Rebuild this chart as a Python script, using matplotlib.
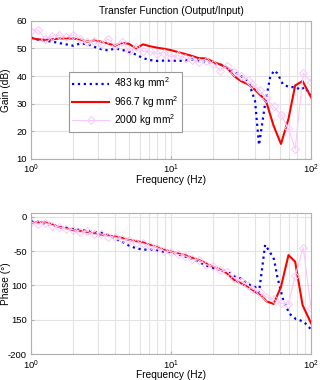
import numpy as np
import matplotlib
matplotlib.use('Agg')
from matplotlib import pyplot as plt

plt.rcParams['font.family'] = ['Liberation Sans', 'DejaVu Sans']
plt.rcParams['mathtext.fontset'] = 'custom'
plt.rcParams['mathtext.rm'] = 'Liberation Sans'
plt.rcParams['mathtext.it'] = 'Liberation Sans'

#%% Data
f_low = [1.0, 1.12, 1.26, 1.41, 1.58, 1.78, 2.0, 2.24, 2.51, 2.82, 3.16, 3.55, 3.98,
         4.47, 5.01, 5.62, 6.31, 7.08, 7.94, 8.91, 10.0, 11.2, 12.6, 14.1, 15.8,
         17.8, 20.0, 22.4, 25.1, 28.2, 31.6, 35.5]

# 483 kg mm2
f_483 = f_low + [39.8, 42.5, 47.0, 51.0, 54.4, 57.5, 63.0, 70.0, 78.0, 84.0, 90.0, 100.0]
gain_483 = [54.0, 53.2, 52.8, 52.5, 52.0, 51.5, 51.0, 51.8, 51.6, 50.6, 49.8, 49.3, 50.0,
            49.5, 48.8, 47.8, 46.5, 45.8, 45.5, 45.6, 45.6, 45.5, 45.6, 46.0, 45.6,
            45.2, 44.8, 44.3, 43.2, 41.5, 40.0, 38.3,
            31.0, 15.0, 30.0, 39.5, 42.0, 41.0, 37.0, 36.0, 36.0, 35.0, 36.0, 33.0]
phase_483 = [-7, -7.5, -10, -12, -15, -16, -18, -19.5, -20.5, -22.5, -23.5, -27, -32,
             -37, -42, -46, -48, -48, -49.5, -51, -52, -55, -58, -61, -66,
             -71, -75, -77, -80, -86, -90, -98,
             -102, -110, -41, -52, -62, -88, -120, -141, -149, -151, -154, -164]

# 966.7 kg mm2
f_967 = f_low + [39.8, 44.7, 48.0, 54.0, 61.0, 69.0, 77.0, 87.0, 100.0]
gain_967 = [53.8, 53.3, 53.2, 53.3, 53.6, 53.7, 53.6, 53.3, 52.5, 52.9, 52.5, 51.8, 51.0,
            52.0, 51.7, 50.0, 51.5, 50.8, 50.3, 49.9, 49.4, 48.7, 48.0, 47.3, 46.5,
            46.4, 45.2, 44.2, 43.0, 40.0, 38.2, 37.0,
            35.0, 32.5, 30.5, 22.0, 15.4, 24.5, 36.6, 38.2, 32.3]
phase_967 = [-8.5, -8.5, -8.5, -11, -15, -17, -19.5, -21, -22, -24.5, -26, -27.5, -29,
             -31, -34, -35.5, -37.5, -41, -44.5, -48, -51, -53.5, -56, -59.5, -63,
             -68, -73, -77, -82.5, -92, -97, -102,
             -109, -116, -123, -127, -102, -56, -65.5, -128.7, -155]

# 2000 kg mm2
f_2000 = f_low + [38.0, 43.0, 48.0, 54.0, 61.0, 69.0, 77.0, 88.0, 100.0]
gain_2000 = [56.5, 56.8, 53.5, 54.5, 54.8, 54.0, 55.0, 53.5, 52.5, 52.8, 51.5, 53.5, 51.0,
             52.5, 49.0, 50.5, 49.0, 49.0, 48.0, 48.5, 47.0, 47.5, 46.5, 46.0, 45.0,
             45.5, 44.5, 42.0, 43.5, 41.5, 40.0, 38.5,
             37.0, 35.0, 32.0, 29.0, 26.0, 21.0, 13.5, 41.0, 38.0]
phase_2000 = [-8, -11, -9, -13, -15, -18, -19, -23, -21, -26, -25, -29, -30,
              -33, -34, -38, -39, -43, -45, -50, -51, -55, -57, -62, -63,
              -70, -72, -78, -80, -89, -94, -100,
              -105, -110, -117, -120, -126, -127, -86, -45, -133]

labels = ['483 kg mm$^2$', '966.7 kg mm$^2$', '2000 kg mm$^2$']
phase_ticks = [-200, -150, -100, -50, 0]
phase_ticklabels = ['-200', '150', '100', '-50', '0']

pink = '#fbc8fb'
gridclr = '#e3e3e3'
spineclr = '#b0b0b0'
fs = 7.3
tfs = 6.8

#%% Figure
fig = plt.figure(figsize=(3.2, 3.8), dpi=100)
ax1 = fig.add_axes([0.097, 0.582, 0.875, 0.363])
ax2 = fig.add_axes([0.097, 0.068, 0.875, 0.371])

ax1.plot(f_483, gain_483, ':', color='blue', lw=1.6, label=labels[0])
ax1.plot(f_967, gain_967, '-', color='red', lw=1.5, label=labels[1])
ax1.plot(f_2000, gain_2000, '-', color=pink, lw=0.8, marker='D', ms=4,
         mfc='none', mec=pink, mew=0.7, label=labels[2])

ax2.plot(f_483, phase_483, ':', color='blue', lw=1.6)
ax2.plot(f_967, phase_967, '-', color='red', lw=1.5)
ax2.plot(f_2000, phase_2000, '-', color=pink, lw=0.8, marker='D', ms=4,
         mfc='none', mec=pink, mew=0.7)

for ax in [ax1, ax2]:
    ax.set_xscale('log')
    ax.set_xlim(1, 100)
    ax.grid(True, which='major', color=gridclr, lw=0.8)
    ax.grid(True, which='minor', axis='x', color=gridclr, lw=0.8)
    ax.tick_params(which='both', direction='in', labelsize=tfs, color=spineclr,
                   length=2)
    ax.tick_params(which='minor', length=1)
    ax.tick_params(axis='x', pad=3)
    ax.tick_params(axis='y', pad=3)
    for sp in ax.spines.values():
        sp.set_color(spineclr)
        sp.set_linewidth(0.8)
    ax.set_xlabel('Frequency (Hz)', fontsize=fs, labelpad=-1)
    ax.set_axisbelow(True)

ax1.set_ylim(10, 60)
ax1.set_yticks([10, 20, 30, 40, 50, 60])
ax1.set_ylabel('Gain (dB)', fontsize=fs)
ax1.yaxis.set_label_coords(-0.07, 0.5)
ax1.set_title('Transfer Function (Output/Input)', fontsize=fs, pad=5)

ax2.set_ylim(-200, 5)
ax2.set_yticks(phase_ticks)
ax2.set_yticklabels(phase_ticklabels)
ax2.set_ylabel('Phase (°)', fontsize=fs)
ax2.yaxis.set_label_coords(-0.07, 0.5)

leg = ax1.legend(loc='upper left', bbox_to_anchor=(0.135, 0.63), fontsize=fs,
                 fancybox=False, framealpha=1, edgecolor='#999999',
                 handlelength=3.6, borderpad=0.35, labelspacing=0.25,
                 handletextpad=0.5, borderaxespad=0)
leg.get_frame().set_linewidth(0.8)

fig.savefig('out.png', dpi=100)
